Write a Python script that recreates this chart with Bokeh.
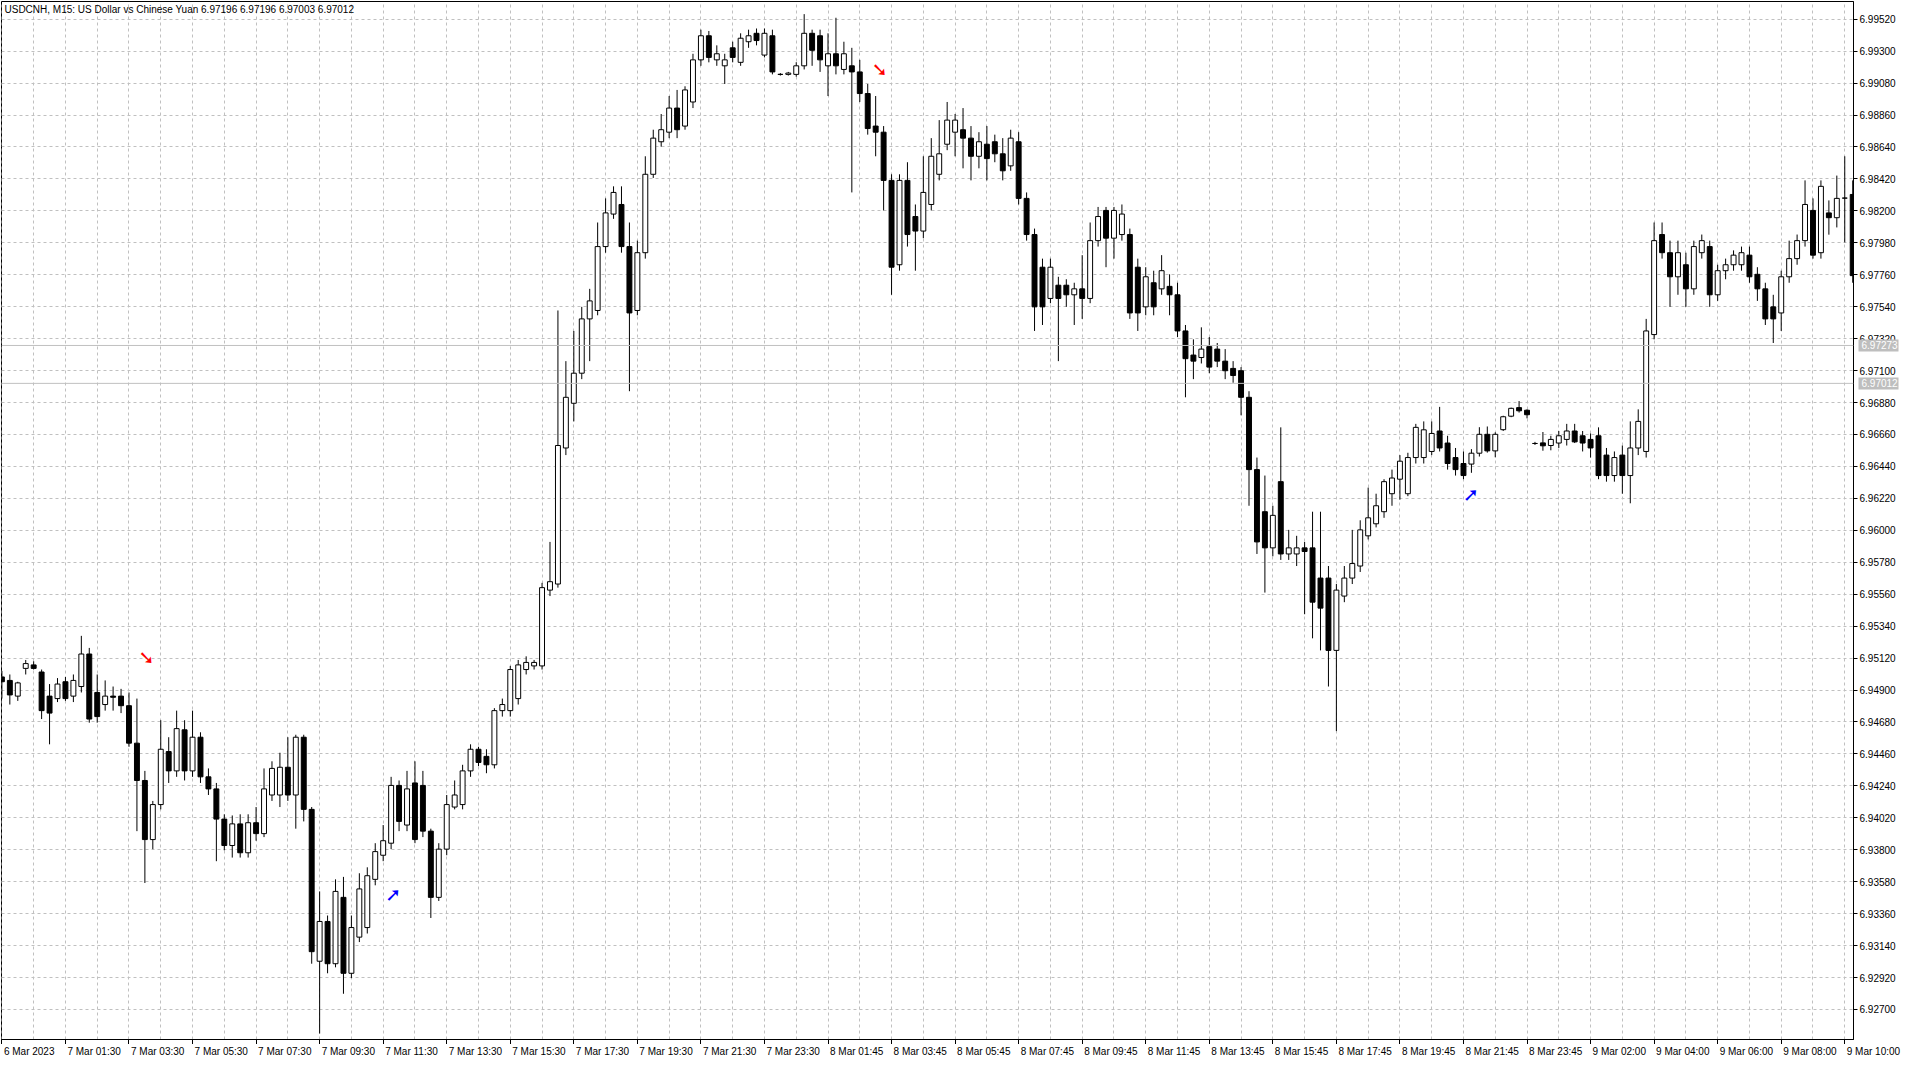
from bokeh.plotting import figure
from bokeh.layouts import column
from bokeh.models import (Range1d, LinearAxis, FixedTicker, Span, Label,
                          ColumnDataSource, PrintfTickFormatter)
from bokeh.core.properties import value
from bokeh.embed import file_html
from bokeh.resources import INLINE

# ---------------- data (USDCNH, M15) ----------------
open_ = [
 6.94990, 6.94966, 6.94858, 6.95049, 6.95073, 6.95024, 6.94858, 6.94841, 6.94957, 6.94858,
 6.94924, 6.95148, 6.94883, 6.94800, 6.94858, 6.94858, 6.94792, 6.94534, 6.94277, 6.93870,
 6.94111, 6.94476, 6.94343, 6.94626, 6.94343, 6.94575, 6.94302, 6.94219, 6.94011, 6.93829,
 6.93978, 6.93779, 6.93986, 6.93911, 6.94177, 6.94177, 6.94368, 6.94177, 6.94575, 6.94078,
 6.93032, 6.93306, 6.93015, 6.93472, 6.92949, 6.93198, 6.93264, 6.93596, 6.93762, 6.93845,
 6.94243, 6.93970, 6.94260, 6.94243, 6.93928, 6.93472, 6.93804, 6.94094, 6.94111, 6.94343,
 6.94492, 6.94443, 6.94385, 6.94758, 6.94758, 6.94841, 6.95041, 6.95066, 6.95066, 6.95588,
 6.95630, 6.96567, 6.96875, 6.97082, 6.97456, 6.97514, 6.97954, 6.98178, 6.98244, 6.97954,
 6.97514, 6.97912, 6.98452, 6.98676, 6.98742, 6.98908, 6.98784, 6.98950, 6.99240, 6.99406,
 6.99240, 6.99199, 6.99323, 6.99223, 6.99365, 6.99423, 6.99273, 6.99406, 6.99140, 6.99140,
 6.99140, 6.99199, 6.99423, 6.99406, 6.99199, 6.99282, 6.99174, 6.99199, 6.99157, 6.99008,
 6.98784, 6.98742, 6.98410, 6.97829, 6.98410, 6.98161, 6.98061, 6.98244, 6.98452, 6.98659,
 6.98742, 6.98759, 6.98701, 6.98576, 6.98659, 6.98676, 6.98593, 6.98510, 6.98676, 6.98286,
 6.98037, 6.97812, 6.97597, 6.97688, 6.97688, 6.97622, 6.97663, 6.97597, 6.97995, 6.98203,
 6.98012, 6.98037, 6.98037, 6.97812, 6.97539, 6.97705, 6.97663, 6.97680, 6.97622, 6.97373,
 6.97207, 6.97190, 6.97265, 6.97248, 6.97165, 6.97115, 6.97099, 6.96916, 6.96418, 6.96128,
 6.95879, 6.96335, 6.95837, 6.95837, 6.95879, 6.95879, 6.95671, 6.95671, 6.95173, 6.95547,
 6.95671, 6.95754, 6.95962, 6.96045, 6.96128, 6.96252, 6.96352, 6.96252, 6.96501, 6.96501,
 6.96543, 6.96684, 6.96601, 6.96501, 6.96460, 6.96456, 6.96531, 6.96661, 6.96547, 6.96693,
 6.96786, 6.96845, 6.96827, 6.96598, 6.96602, 6.96584, 6.96601, 6.96626, 6.96684, 6.96651,
 6.96626, 6.96651, 6.96518, 6.96377, 6.96518, 6.96377, 6.96567, 6.96543, 6.97348, 6.98037,
 6.97912, 6.97746, 6.97829, 6.97663, 6.97912, 6.97954, 6.97622, 6.97788, 6.97829, 6.97829,
 6.97895, 6.97763, 6.97663, 6.97539, 6.97497, 6.97746, 6.97871, 6.97995, 6.98203, 6.97912,
 6.98186, 6.98153, 6.98288, 6.98313]
high = [
 6.95032, 6.95007, 6.94957, 6.95107, 6.95098, 6.95041, 6.94941, 6.94982, 6.94990, 6.95007,
 6.95273, 6.95190, 6.95007, 6.94966, 6.94924, 6.94908, 6.94883, 6.94841, 6.94343, 6.94136,
 6.94692, 6.94575, 6.94758, 6.94692, 6.94758, 6.94609, 6.94360, 6.94260, 6.94044, 6.94036,
 6.94044, 6.94044, 6.94094, 6.94360, 6.94409, 6.94468, 6.94575, 6.94592, 6.94592, 6.94094,
 6.93513, 6.93347, 6.93596, 6.93613, 6.93347, 6.93638, 6.93679, 6.93845, 6.93970, 6.94302,
 6.94277, 6.94343, 6.94409, 6.94343, 6.93945, 6.93845, 6.94177, 6.94277, 6.94385, 6.94526,
 6.94509, 6.94492, 6.94775, 6.94841, 6.95066, 6.95107, 6.95132, 6.95107, 6.95638, 6.95920,
 6.97514, 6.97165, 6.97373, 6.97539, 6.97663, 6.98120, 6.98286, 6.98369, 6.98369, 6.98120,
 6.97995, 6.98576, 6.98759, 6.98867, 6.98991, 6.99033, 6.99058, 6.99282, 6.99448, 6.99439,
 6.99340, 6.99282, 6.99365, 6.99423, 6.99448, 6.99456, 6.99456, 6.99448, 6.99149, 6.99157,
 6.99224, 6.99555, 6.99448, 6.99448, 6.99423, 6.99530, 6.99365, 6.99323, 6.99240, 6.99074,
 6.98991, 6.98784, 6.98452, 6.98452, 6.98535, 6.98244, 6.98576, 6.98701, 6.98825, 6.98950,
 6.98867, 6.98908, 6.98784, 6.98742, 6.98784, 6.98725, 6.98701, 6.98759, 6.98742, 6.98327,
 6.98078, 6.97871, 6.97871, 6.97746, 6.97729, 6.97705, 6.97895, 6.98120, 6.98227, 6.98227,
 6.98227, 6.98244, 6.98078, 6.97871, 6.97812, 6.97788, 6.97895, 6.97763, 6.97705, 6.97414,
 6.97315, 6.97398, 6.97331, 6.97290, 6.97248, 6.97165, 6.97124, 6.96958, 6.96501, 6.96377,
 6.96169, 6.96709, 6.96003, 6.95962, 6.95920, 6.96128, 6.96128, 6.95754, 6.95630, 6.95754,
 6.96003, 6.96069, 6.96294, 6.96252, 6.96352, 6.96418, 6.96518, 6.96534, 6.96733, 6.96750,
 6.96750, 6.96850, 6.96651, 6.96567, 6.96543, 6.96559, 6.96710, 6.96715, 6.96675, 6.96789,
 6.96845, 6.96890, 6.96833, 6.96609, 6.96677, 6.96651, 6.96684, 6.96733, 6.96733, 6.96684,
 6.96667, 6.96709, 6.96567, 6.96543, 6.96584, 6.96750, 6.96833, 6.97456, 6.98120, 6.98120,
 6.97995, 6.97995, 6.97912, 6.97995, 6.98037, 6.97995, 6.97829, 6.97871, 6.97928, 6.97954,
 6.97954, 6.97812, 6.97705, 6.97622, 6.97788, 6.97995, 6.98037, 6.98410, 6.98286, 6.98410,
 6.98272, 6.98443, 6.98576, 6.98410]
low = [
 6.94841, 6.94800, 6.94825, 6.95007, 6.95041, 6.94700, 6.94526, 6.94817, 6.94825, 6.94817,
 6.94883, 6.94675, 6.94675, 6.94758, 6.94758, 6.94741, 6.94509, 6.93928, 6.93571, 6.93804,
 6.94078, 6.94260, 6.94302, 6.94277, 6.94302, 6.94260, 6.94177, 6.93721, 6.93796, 6.93746,
 6.93746, 6.93746, 6.93862, 6.93887, 6.94136, 6.94094, 6.94136, 6.93945, 6.93995, 6.93015,
 6.92534, 6.92949, 6.92990, 6.92808, 6.92916, 6.93164, 6.93223, 6.93555, 6.93721, 6.93804,
 6.93928, 6.93928, 6.93845, 6.93887, 6.93330, 6.93447, 6.93762, 6.94078, 6.94078, 6.94302,
 6.94376, 6.94327, 6.94360, 6.94717, 6.94717, 6.94800, 6.95007, 6.95041, 6.95041, 6.95547,
 6.95605, 6.96518, 6.96750, 6.97041, 6.97165, 6.97481, 6.97912, 6.98145, 6.97912, 6.96958,
 6.97481, 6.97871, 6.98427, 6.98642, 6.98701, 6.98701, 6.98759, 6.98908, 6.99199, 6.99223,
 6.99199, 6.99074, 6.99223, 6.99199, 6.99323, 6.99340, 6.99257, 6.99140, 6.99132, 6.99132,
 6.99124, 6.99174, 6.99199, 6.99157, 6.98991, 6.99140, 6.99140, 6.98327, 6.98950, 6.98725,
 6.98576, 6.98203, 6.97622, 6.97788, 6.97954, 6.97788, 6.98012, 6.98203, 6.98410, 6.98618,
 6.98576, 6.98493, 6.98410, 6.98493, 6.98410, 6.98535, 6.98410, 6.98476, 6.98244, 6.97995,
 6.97373, 6.97414, 6.97564, 6.97165, 6.97539, 6.97414, 6.97456, 6.97564, 6.97954, 6.97812,
 6.97871, 6.97995, 6.97456, 6.97373, 6.97481, 6.97481, 6.97622, 6.97481, 6.97331, 6.96916,
 6.97041, 6.97149, 6.97082, 6.97124, 6.97041, 6.97016, 6.96792, 6.96169, 6.95837, 6.95571,
 6.95821, 6.95796, 6.95796, 6.95754, 6.95422, 6.95256, 6.95173, 6.94924, 6.94617, 6.95505,
 6.95630, 6.95713, 6.95937, 6.96020, 6.96086, 6.96169, 6.96211, 6.96235, 6.96460, 6.96460,
 6.96518, 6.96543, 6.96418, 6.96377, 6.96352, 6.96396, 6.96508, 6.96535, 6.96503, 6.96684,
 6.96779, 6.96811, 6.96771, 6.96588, 6.96548, 6.96551, 6.96567, 6.96584, 6.96601, 6.96543,
 6.96501, 6.96352, 6.96335, 6.96335, 6.96252, 6.96186, 6.96518, 6.96501, 6.97315, 6.97871,
 6.97539, 6.97622, 6.97539, 6.97622, 6.97871, 6.97539, 6.97580, 6.97729, 6.97788, 6.97788,
 6.97705, 6.97580, 6.97414, 6.97290, 6.97373, 6.97705, 6.97829, 6.97954, 6.97871, 6.97871,
 6.98036, 6.98086, 6.97983, 6.97705]
close = [
 6.94957, 6.94866, 6.94949, 6.95082, 6.95049, 6.94758, 6.94741, 6.94941, 6.94841, 6.94966,
 6.95148, 6.94700, 6.94717, 6.94858, 6.94850, 6.94792, 6.94534, 6.94277, 6.93870, 6.94111,
 6.94492, 6.94343, 6.94634, 6.94343, 6.94575, 6.94302, 6.94219, 6.94011, 6.93829, 6.93978,
 6.93779, 6.93986, 6.93911, 6.94219, 6.94360, 6.94368, 6.94177, 6.94575, 6.94078, 6.93098,
 6.93306, 6.93015, 6.93513, 6.92949, 6.93264, 6.93530, 6.93621, 6.93787, 6.93862, 6.94243,
 6.93995, 6.94219, 6.93870, 6.93928, 6.93472, 6.93804, 6.94111, 6.94177, 6.94343, 6.94492,
 6.94401, 6.94385, 6.94758, 6.94800, 6.95041, 6.95073, 6.95090, 6.95090, 6.95605, 6.95646,
 6.96584, 6.96916, 6.97082, 6.97456, 6.97580, 6.97954, 6.98186, 6.98327, 6.97954, 6.97497,
 6.97912, 6.98452, 6.98701, 6.98759, 6.98908, 6.98759, 6.99033, 6.99240, 6.99406, 6.99257,
 6.99282, 6.99240, 6.99257, 6.99389, 6.99406, 6.99373, 6.99423, 6.99157, 6.99140, 6.99149,
 6.99199, 6.99423, 6.99306, 6.99240, 6.99282, 6.99199, 6.99282, 6.99157, 6.99008, 6.98767,
 6.98742, 6.98410, 6.97812, 6.98410, 6.98037, 6.98061, 6.98327, 6.98576, 6.98593, 6.98825,
 6.98825, 6.98701, 6.98576, 6.98676, 6.98560, 6.98593, 6.98476, 6.98701, 6.98286, 6.98037,
 6.97539, 6.97539, 6.97812, 6.97597, 6.97622, 6.97663, 6.97597, 6.97995, 6.98161, 6.98012,
 6.98203, 6.98178, 6.97497, 6.97497, 6.97746, 6.97539, 6.97788, 6.97622, 6.97373, 6.97182,
 6.97165, 6.97248, 6.97124, 6.97165, 6.97099, 6.97066, 6.96916, 6.96418, 6.95920, 6.95879,
 6.96103, 6.95837, 6.95879, 6.95879, 6.95854, 6.95505, 6.95464, 6.95173, 6.95588, 6.95671,
 6.95771, 6.96003, 6.96086, 6.96169, 6.96335, 6.96360, 6.96476, 6.96501, 6.96709, 6.96692,
 6.96667, 6.96567, 6.96460, 6.96418, 6.96377, 6.96531, 6.96661, 6.96547, 6.96661, 6.96782,
 6.96840, 6.96823, 6.96796, 6.96598, 6.96582, 6.96626, 6.96651, 6.96684, 6.96609, 6.96601,
 6.96567, 6.96377, 6.96377, 6.96501, 6.96377, 6.96567, 6.96750, 6.97373, 6.97995, 6.97912,
 6.97746, 6.97912, 6.97663, 6.97954, 6.97995, 6.97622, 6.97788, 6.97829, 6.97895, 6.97912,
 6.97746, 6.97663, 6.97456, 6.97456, 6.97746, 6.97871, 6.97995, 6.98244, 6.97895, 6.98369,
 6.98153, 6.98286, 6.98288, 6.97754]

price_ticks = [6.92700, 6.92920, 6.93140, 6.93360, 6.93580, 6.93800, 6.94020, 6.94240,
               6.94460, 6.94680, 6.94900, 6.95120, 6.95340, 6.95560, 6.95780, 6.96000,
               6.96220, 6.96440, 6.96660, 6.96880, 6.97100, 6.97320, 6.97540, 6.97760,
               6.97980, 6.98200, 6.98420, 6.98640, 6.98860, 6.99080, 6.99300, 6.99520]
time_label_bars = [0, 8, 16, 24, 32, 40, 48, 56, 64, 72, 80, 88, 96, 104, 112,
                   120, 128, 136, 144, 152, 160, 168, 176, 184, 192, 200, 208, 216, 224, 232]
time_labels = ["6 Mar 2023", "7 Mar 01:30", "7 Mar 03:30", "7 Mar 05:30", "7 Mar 07:30",
               "7 Mar 09:30", "7 Mar 11:30", "7 Mar 13:30", "7 Mar 15:30", "7 Mar 17:30",
               "7 Mar 19:30", "7 Mar 21:30", "7 Mar 23:30", "8 Mar 01:45", "8 Mar 03:45",
               "8 Mar 05:45", "8 Mar 07:45", "8 Mar 09:45", "8 Mar 11:45", "8 Mar 13:45",
               "8 Mar 15:45", "8 Mar 17:45", "8 Mar 19:45", "8 Mar 21:45", "8 Mar 23:45",
               "9 Mar 02:00", "9 Mar 04:00", "9 Mar 06:00", "9 Mar 08:00", "9 Mar 10:00"]
grid_bars = list(range(0, 233, 4))

sell_bars = [18.2, 110.5]
sell_prices = [6.95124, 6.99174]
buy_bars = [49.25, 184.95]
buy_prices = [6.93496, 6.96252]

price_lines = [6.97273, 6.97012]
header = "USDCNH, M15:  US Dollar vs Chinese Yuan  6.97196 6.97196 6.97003 6.97012"

FONT = "Liberation Sans"
GRID = "#C0C0C0"

# ---------------- main chart ----------------
X0, X1 = -0.05, 233.1
Y0, Y1 = 6.92493, 6.99642
FW, FH = 1852, 1038

p = figure(frame_width=FW, frame_height=FH,
           x_range=Range1d(X0, X1), y_range=Range1d(Y0, Y1),
           output_backend="svg", toolbar_location=None,
           y_axis_location="right",
           min_border_left=1, min_border_top=1, min_border_right=0, min_border_bottom=0)
p.background_fill_color = "white"
p.border_fill_color = "white"
p.outline_line_color = "black"
p.outline_line_width = 1

p.xgrid.ticker = FixedTicker(ticks=grid_bars)
p.ygrid.ticker = FixedTicker(ticks=price_ticks)
for g in (p.xgrid, p.ygrid):
    g.grid_line_color = GRID
    g.grid_line_dash = "3 3"
    g.grid_line_width = 1

# right price axis
ya = p.yaxis[0]
ya.ticker = FixedTicker(ticks=price_ticks)
ya.formatter = PrintfTickFormatter(format="%.5f")
ya.major_tick_in = 0
ya.major_tick_out = 4
ya.minor_tick_line_color = None
ya.axis_line_color = "black"
ya.major_tick_line_color = "black"
ya.major_label_standoff = 2
ya.major_label_text_font = FONT
ya.major_label_text_font_size = "10px"
ya.major_label_text_color = "black"

# price-line tags: a second price axis placed after the first one, whose
# inward ticks (thick, grey) and pulled-back labels sit over the price scale
tag_axis = LinearAxis(ticker=FixedTicker(ticks=price_lines),
                      formatter=PrintfTickFormatter(format="%.5f"))
tag_axis.axis_line_color = None
tag_axis.minor_tick_line_color = None
tag_axis.major_tick_out = 0
tag_axis.major_tick_in = 40
tag_axis.major_tick_line_width = 12
tag_axis.major_tick_line_cap = "butt"
tag_axis.major_tick_line_color = "#BEBEBE"
tag_axis.major_label_standoff = -37
tag_axis.major_label_text_font = FONT
tag_axis.major_label_text_font_size = "10px"
tag_axis.major_label_text_color = "white"
p.add_layout(tag_axis, "right")

# bottom axis: line and tick marks (labels are drawn in the strip below)
xa = p.xaxis[0]
xa.ticker = FixedTicker(ticks=time_label_bars)
xa.major_label_overrides = {b: "" for b in time_label_bars}
xa.major_tick_in = 0
xa.major_tick_out = 5
xa.minor_tick_line_color = None
xa.axis_line_color = "black"
xa.major_tick_line_color = "black"
xa.major_label_text_font_size = "1px"
xa.major_label_standoff = 0

for pl in price_lines:
    p.add_layout(Span(location=pl, dimension="width", line_color=GRID, line_width=1))

n = len(open_)
bull = [c >= o for o, c in zip(open_, close)]
src = ColumnDataSource(dict(
    x=list(range(n)),
    top=[max(o, c) for o, c in zip(open_, close)],
    bottom=[min(o, c) for o, c in zip(open_, close)],
    high=high, low=low,
    fill=["white" if b else "black" for b in bull],
))
p.segment(x0="x", y0="low", x1="x", y1="high", source=src, line_color="black", line_width=1)
p.vbar(x="x", width=0.62, top="top", bottom="bottom", source=src,
       fill_color="fill", line_color="black", line_width=1)

p.text(x=sell_bars, y=sell_prices, text=["\u2798"] * len(sell_bars), text_color="#FF0000",
       text_font=value("DejaVu Sans"), text_font_size="19px", text_font_style="bold",
       text_align="center", text_baseline="middle")
p.text(x=buy_bars, y=buy_prices, text=["\u279A"] * len(buy_bars), text_color="#0000FF",
       text_font=value("DejaVu Sans"), text_font_size="19px", text_font_style="bold",
       text_align="center", text_baseline="middle")

p.add_layout(Label(x=3, y=FH - 2, x_units="screen", y_units="screen", text=header,
                   text_font=FONT, text_font_size="10px", text_color="black",
                   text_baseline="top", text_align="left"))

# ---------------- time-label strip (same bar scale, reaches under the price scale) ----------------
px_per_bar = FW / (X1 - X0)
EXTRA = 50
pt = figure(frame_width=FW + EXTRA, frame_height=16,
            x_range=Range1d(X0, X1 + EXTRA / px_per_bar), y_range=Range1d(0, 1),
            output_backend="svg", toolbar_location=None,
            x_axis_location=None, y_axis_location=None,
            min_border_left=1, min_border_top=0, min_border_right=0, min_border_bottom=0)
pt.outline_line_color = None
pt.background_fill_color = "white"
pt.border_fill_color = "white"
pt.xgrid.visible = False
pt.ygrid.visible = False
pt.text(x=time_label_bars, y=[1.0] * len(time_label_bars), text=time_labels,
        text_font=value(FONT), text_font_size="10px", text_color="black",
        text_align="left", text_baseline="top", x_offset=2, y_offset=1)

open("out.html", "w").write(file_html(column(p, pt), INLINE))
